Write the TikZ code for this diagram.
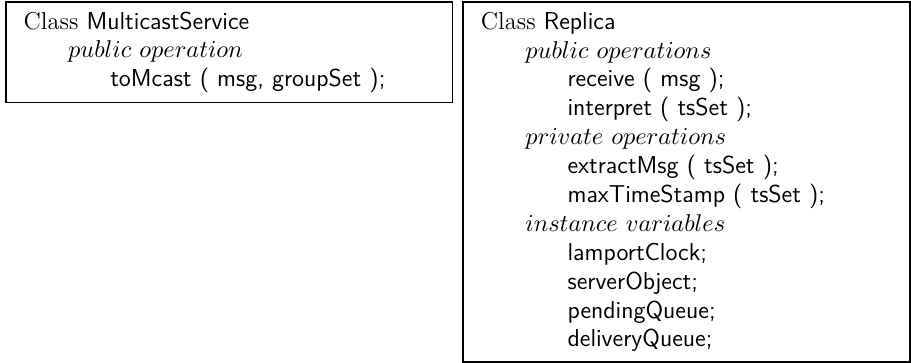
\documentclass[tikz,border=0pt]{standalone}
\usetikzlibrary{positioning}

\newcommand{\opindent}{\hspace*{20pt}}
\newcommand{\memberindent}{\hspace*{39pt}}

\begin{document}
\begin{tikzpicture}[
classbox/.style={draw, line width=0.8pt, anchor=north west, align=left,
	text width=185pt, inner xsep=8pt, inner ysep=0pt,
	font=\fontsize{11}{13}\selectfont},
]
	\useasboundingbox (0,0) rectangle (410pt,-163.35pt);
	\node[classbox, minimum height=45.2pt] (multicast) at (2.25pt,-0.5pt) {%
		Class \textsf{MulticastService}\\
		\opindent$public\ operation$\\
		\memberindent\textsf{toMcast ( msg, groupSet );}
	};
	\node[classbox, minimum height=162pt, right=4pt of multicast.north east, anchor=north west] (replica) {%
		Class \textsf{Replica}\\
		\opindent$public\ operations$\\
		\memberindent\textsf{receive ( msg );}\\
		\memberindent\textsf{interpret ( tsSet );}\\
		\opindent$private\ operations$\\
		\memberindent\textsf{extractMsg ( tsSet );}\\
		\memberindent\textsf{maxTimeStamp ( tsSet );}\\
		\opindent$instance\ variables$\\
		\memberindent\textsf{lamportClock;}\\
		\memberindent\textsf{serverObject;}\\
		\memberindent\textsf{pendingQueue;}\\
		\memberindent\textsf{deliveryQueue;}
	};
\end{tikzpicture}
\end{document}
